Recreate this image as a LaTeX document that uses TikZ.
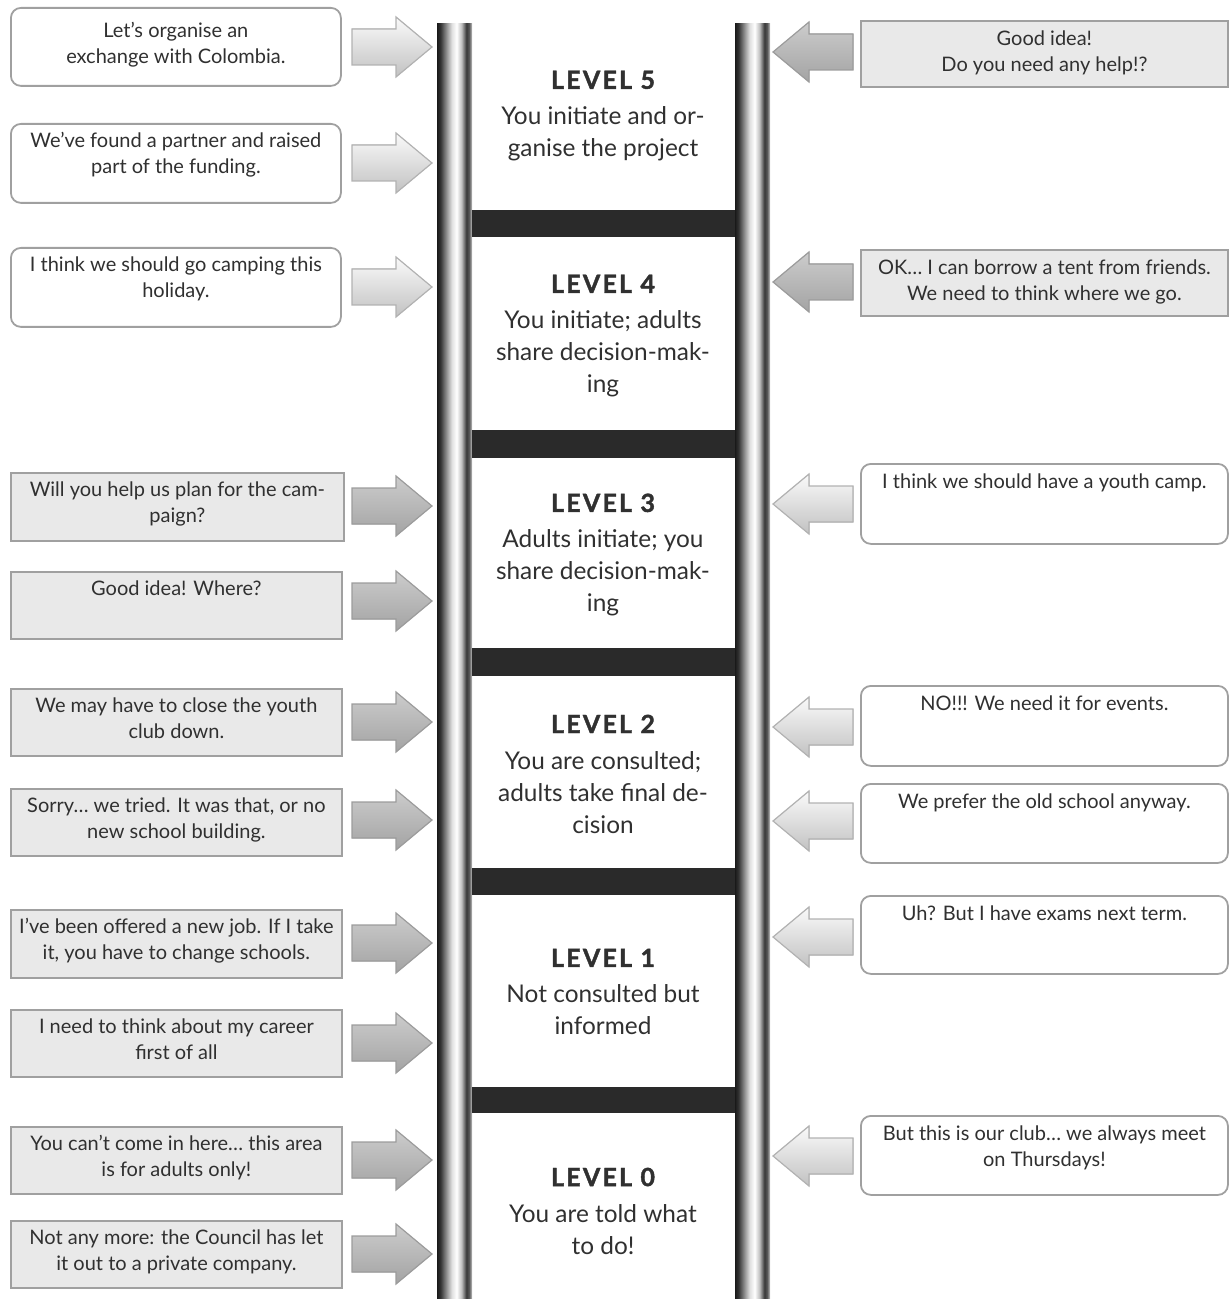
\documentclass[tikz,border=0pt]{standalone}
\usepackage{fontspec}
\setmainfont{Lato}
\definecolor{ink}{HTML}{303030}
\definecolor{boxgrey}{HTML}{E9E9E9}
\definecolor{edge}{HTML}{A0A0A0}
\definecolor{rungcol}{HTML}{2A2A2A}
% cylinder look for the two ladder rails
\pgfdeclarehorizontalshading{rail}{100bp}{color(0bp)=(black!90); color(25bp)=(black!90);
  color(30bp)=(black!80); color(37bp)=(black!50); color(46bp)=(gray!25); color(53bp)=(white);
  color(60bp)=(gray!50); color(67bp)=(black!78); color(71bp)=(black!65); color(75bp)=(gray!45);
  color(100bp)=(gray!45)}
\tikzset{
  greybox/.style={rectangle, draw=edge, line width=0.9pt, fill=boxgrey, inner sep=0pt},
  whitebox/.style={rectangle, rounded corners=5pt, draw=edge, line width=0.9pt, fill=white, inner sep=0pt},
  saytext/.style={text=ink, align=center, inner sep=0pt, font=\fontsize{10}{13}\selectfont},
  leveltext/.style={text=ink, align=center, inner sep=0pt, font=\fontsize{12.2}{16}\selectfont},
  lightarrow/.style={top color=gray!4, bottom color=gray!48, draw=gray!60, line width=0.6pt, line join=miter},
  darkarrow/.style={top color=gray!40, bottom color=gray!72, draw=gray!78, line width=0.6pt, line join=miter},
}
% speech box on the left: name, style, top, bottom, right edge, text offset, text
\newcommand{\leftsay}[7]{%
  \pgfmathsetmacro\boxh{(#4-#3)/2}\pgfmathsetmacro\boxw{(#5-10)/2}%
  \node[#2, anchor=north west, minimum width=\boxw pt, minimum height=\boxh pt] (#1) at (10,#3) {};
  \node[saytext, anchor=north] (#1-t) at ([yshift=-#6pt]#1.north) {#7};}
% speech box on the right: name, style, top, bottom, text
\newcommand{\rightsay}[5]{%
  \pgfmathsetmacro\boxh{(#4-#3)/2}%
  \node[#2, anchor=north west, minimum width=183.5pt, minimum height=\boxh pt] (#1) at (860,#3) {};
  \node[saytext, anchor=north] (#1-t) at ([yshift=-5pt]#1.north) {#5};}
% block arrows towards the ladder
\newcommand{\toright}[2]{%
  \filldraw[#1] (352,#2-18) -- (396,#2-18) -- (396,#2-30) -- (432,#2) -- (396,#2+30)
    -- (396,#2+18) -- (352,#2+18) -- cycle;}
\newcommand{\toleft}[2]{%
  \filldraw[#1] (853,#2-18) -- (809,#2-18) -- (809,#2-30) -- (773,#2) -- (809,#2+30)
    -- (809,#2+18) -- (853,#2+18) -- cycle;}
\newcommand{\levelhead}[1]{{\fontsize{12.5}{16}\selectfont\bfseries\addfontfeatures{LetterSpace=9,FakeBold=1.6}LEVEL #1}\\[2pt]}
\begin{document}
\begin{tikzpicture}[x=0.5pt, y=-0.5pt]
\useasboundingbox (0,0) rectangle (1229,1299);

% ladder
\shade[shading=rail] (437,24) rectangle (472,1299);
\shade[shading=rail] (735,24) rectangle (770,1299);
\foreach \a/\b in {210/237, 430/458, 648/676, 868/895, 1087/1113}
  \fill[rungcol] (472,\a) rectangle (735,\b);

% levels
\node[leveltext] (lv5) at (603,116) {\levelhead{5}You initiate and or-\\ganise the project};
\node[leveltext] (lv4) at (603,336) {\levelhead{4}You initiate; adults\\share decision-mak-\\ing};
\node[leveltext] (lv3) at (603,555) {\levelhead{3}Adults initiate; you\\share decision-mak-\\ing};
\node[leveltext] (lv2) at (603,774) {\levelhead{2}You are consulted;\\adults take final de-\\cision};
\node[leveltext] (lv1) at (603,992) {\levelhead{1}Not consulted but\\informed};
\node[leveltext] (lv0) at (603,1211) {\levelhead{0}You are told what\\to do!};

% what young people say (left)
\leftsay{l1}{whitebox}{7}{85}{340}{7.5}{Let's organise an\\exchange with Colombia.}
\leftsay{l2}{whitebox}{123}{202}{340}{4.5}{We've found a partner and raised\\part of the funding.}
\leftsay{l3}{whitebox}{247}{326}{340}{4.5}{I think we should go camping this\\holiday.}
\leftsay{l4}{greybox}{472}{540}{343}{4.5}{Will you help us plan for the cam-\\paign?}
\leftsay{l5}{greybox}{571}{638}{341}{4.5}{Good idea! Where?}
\leftsay{l6}{greybox}{688}{755}{341}{4.5}{We may have to close the youth\\club down.}
\leftsay{l7}{greybox}{788}{855}{341}{4.5}{Sorry\ldots\ we tried. It was that, or no\\new school building.}
\leftsay{l8}{greybox}{909}{977}{341}{4.5}{I've been offered a new job. If I take\\it, you have to change schools.}
\leftsay{l9}{greybox}{1009}{1076}{341}{4.5}{I need to think about my career\\first of all}
\leftsay{l10}{greybox}{1126}{1193}{341}{4.5}{You can't come in here\ldots\ this area\\is for adults only!}
\leftsay{l11}{greybox}{1220}{1287}{341}{4.5}{Not any more: the Council has let\\it out to a private company.}

\toright{lightarrow}{47}
\toright{lightarrow}{163}
\toright{lightarrow}{287}
\toright{darkarrow}{506}
\toright{darkarrow}{601}
\toright{darkarrow}{722}
\toright{darkarrow}{820}
\toright{darkarrow}{943}
\toright{darkarrow}{1043}
\toright{darkarrow}{1160}
\toright{darkarrow}{1254}

% what adults say (right)
\rightsay{r1}{greybox}{20}{86}{Good idea!\\Do you need any help!?}
\rightsay{r2}{greybox}{249}{315}{OK\ldots\ I can borrow a tent from friends.\\We need to think where we go.}
\rightsay{r3}{whitebox}{463}{543}{I think we should have a youth camp.}
\rightsay{r4}{whitebox}{685}{765}{NO!!! We need it for events.}
\rightsay{r5}{whitebox}{783}{862}{We prefer the old school anyway.}
\rightsay{r6}{whitebox}{895}{973}{Uh? But I have exams next term.}
\rightsay{r7}{whitebox}{1115}{1194}{But this is our club\ldots\ we always meet\\on Thursdays!}

\toleft{darkarrow}{52}
\toleft{darkarrow}{282}
\toleft{lightarrow}{504}
\toleft{lightarrow}{727}
\toleft{lightarrow}{821}
\toleft{lightarrow}{937}
\toleft{lightarrow}{1156}
\end{tikzpicture}
\end{document}
